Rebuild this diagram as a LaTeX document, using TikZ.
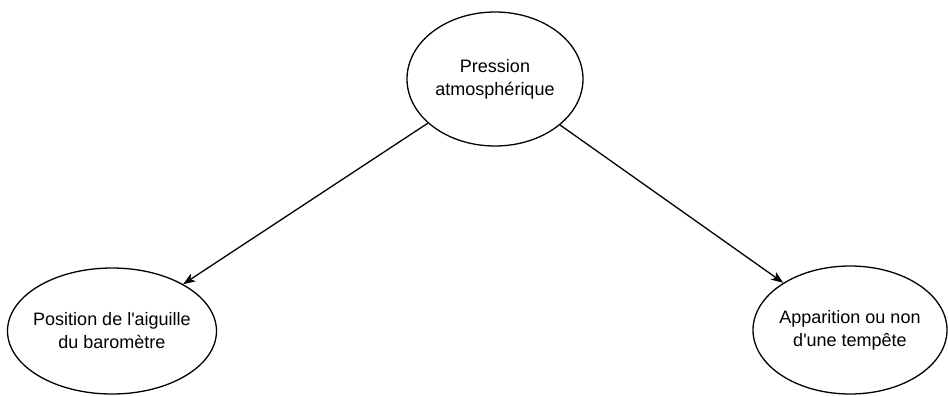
\documentclass[tikz,border=0pt]{standalone}
\usepackage{fontspec}
\setmainfont{Liberation Sans}
\usetikzlibrary{arrows.meta,positioning,shapes.geometric}

\begin{document}
\begin{tikzpicture}[->,>={Stealth[length=12pt,width=9pt,inset=3pt]},line width=1.3pt,on grid]
\tikzstyle{facteur}=[shape=ellipse,draw,line width=1.3pt,inner xsep=-20pt,inner ysep=0pt,text=black,align=center,font=\fontsize{18}{23}\selectfont]

\useasboundingbox (0pt,0pt) rectangle (948pt,-396pt);

\node[facteur]   (pression) at (495pt,-79pt) [minimum width=176pt,minimum height=134pt] {Pression\\atmosphérique};
\node[facteur]   (aiguille) [below left=252pt and 383pt of pression,minimum width=209pt,minimum height=126pt] {Position de l\textquotesingle aiguille\\du baromètre};
\node[facteur]   (tempete) [below right=251pt and 355pt of pression,minimum width=194pt,minimum height=128pt] {Apparition ou non\\d\textquotesingle une tempête};

\path
(pression) edge (aiguille)
(pression) edge (tempete)
;
\end{tikzpicture}
\end{document}
